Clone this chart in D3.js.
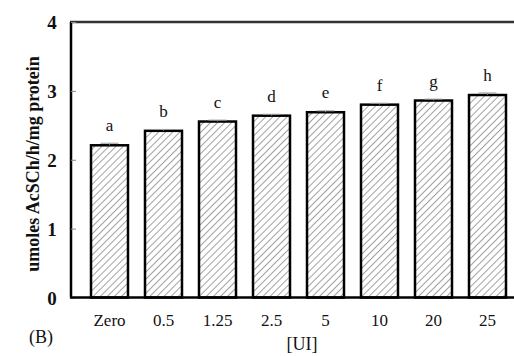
<!DOCTYPE html>
<html><head><meta charset="utf-8">
<script src="https://cdn.jsdelivr.net/npm/d3@7"></script>
<style>body{margin:0;background:#fff}svg{display:block}</style>
</head><body>
<script>
const categories = ["Zero","0.5","1.25","2.5","5","10","20","25"];
const values = [2.21, 2.42, 2.555, 2.64, 2.69, 2.80, 2.86, 2.94];
const errors = [0.03, 0.02, 0.02, 0.02, 0.02, 0.02, 0.02, 0.03];
const letters = ["a","b","c","d","e","f","g","h"];
const yTicks = [0,1,2,3,4];

const W = 514, H = 356;
const svg = d3.select("body").append("svg").attr("width", W).attr("height", H);
const defs = svg.append("defs");
const pat = defs.append("pattern").attr("id","hatch").attr("patternUnits","userSpaceOnUse")
  .attr("width",5).attr("height",5).attr("patternTransform","rotate(45)");
pat.append("rect").attr("width",5).attr("height",5).attr("fill","#fff");
pat.append("line").attr("x1",0).attr("y1",0).attr("x2",0).attr("y2",5)
  .attr("stroke","#444").attr("stroke-width",1);

const x = d3.scaleBand().domain(categories).range([82.5, 514.5]).paddingInner(0.315).paddingOuter(0.1575);
const y = d3.scaleLinear().domain([0,4]).range([297.5, 22]);
const font = "'Liberation Serif', 'Times New Roman', serif";

// frame top line
svg.append("line").attr("x1",70).attr("x2",514).attr("y1",y(4)).attr("y2",y(4))
  .attr("stroke","#333").attr("stroke-width",2.5);

// bars
svg.selectAll("rect.bar").data(categories).enter().append("rect").attr("class","bar")
  .attr("x", d => x(d)).attr("width", x.bandwidth())
  .attr("y", (d,i) => y(values[i])).attr("height", (d,i) => y(0) - y(values[i]))
  .attr("fill","url(#hatch)").attr("stroke","#000").attr("stroke-width",2.5);

// error bars
svg.selectAll("g.err").data(categories).enter().append("g").attr("class","err").each(function(d,i){
  const g = d3.select(this), cx = x(d) + x.bandwidth()/2;
  g.append("line").attr("x1",cx).attr("x2",cx).attr("y1",y(values[i])).attr("y2",y(values[i]+errors[i])).attr("stroke","#777").attr("stroke-width",1);
  g.append("line").attr("x1",cx-9).attr("x2",cx+9).attr("y1",y(values[i]+errors[i])).attr("y2",y(values[i]+errors[i])).attr("stroke","#999").attr("stroke-width",1);
});

// letters
svg.selectAll("text.let").data(categories).enter().append("text").attr("class","let")
  .attr("x", d => x(d) + x.bandwidth()/2).attr("y", (d,i) => y(values[i]) - 14)
  .attr("text-anchor","middle").attr("font-family",font).attr("font-size",17).attr("fill","#111")
  .text((d,i) => letters[i]);

// y axis
const yAxis = svg.append("g").attr("transform","translate(71,0)")
  .call(d3.axisRight(y).tickValues(yTicks).tickSize(5).tickFormat(d3.format("d")));
yAxis.select(".domain").attr("stroke","#000").attr("stroke-width",2.5).attr("d",`M0,${y(4)}V${y(0)}`);
yAxis.selectAll(".tick line").attr("stroke","#888").attr("stroke-width",1);
yAxis.selectAll(".tick text").attr("x",-19).attr("dy","0.35em").attr("text-anchor","middle")
  .attr("font-family",font).attr("font-size",19).attr("font-weight","bold").attr("fill","#111");

// x axis
const xAxis = svg.append("g").attr("transform",`translate(0,${y(0)})`)
  .call(d3.axisBottom(x).tickSize(0));
xAxis.select(".domain").attr("stroke","#000").attr("stroke-width",2.5).attr("d","M70,0H514");
xAxis.selectAll(".tick text").attr("dy","0").attr("y",28)
  .attr("font-family",font).attr("font-size",17).attr("fill","#111");

// axis labels
svg.append("text").attr("transform","translate(39,164) rotate(-90)").attr("text-anchor","middle")
  .attr("font-family",font).attr("font-size",18).attr("font-weight","bold").attr("fill","#111")
  .text("umoles AcSCh/h/mg protein");
svg.append("text").attr("x",302).attr("y",350).attr("text-anchor","middle")
  .attr("font-family",font).attr("font-size",18).attr("fill","#111").text("[UI]");
svg.append("text").attr("x",41).attr("y",343).attr("text-anchor","middle")
  .attr("font-family",font).attr("font-size",18).attr("fill","#111").text("(B)");
</script>
</body></html>
